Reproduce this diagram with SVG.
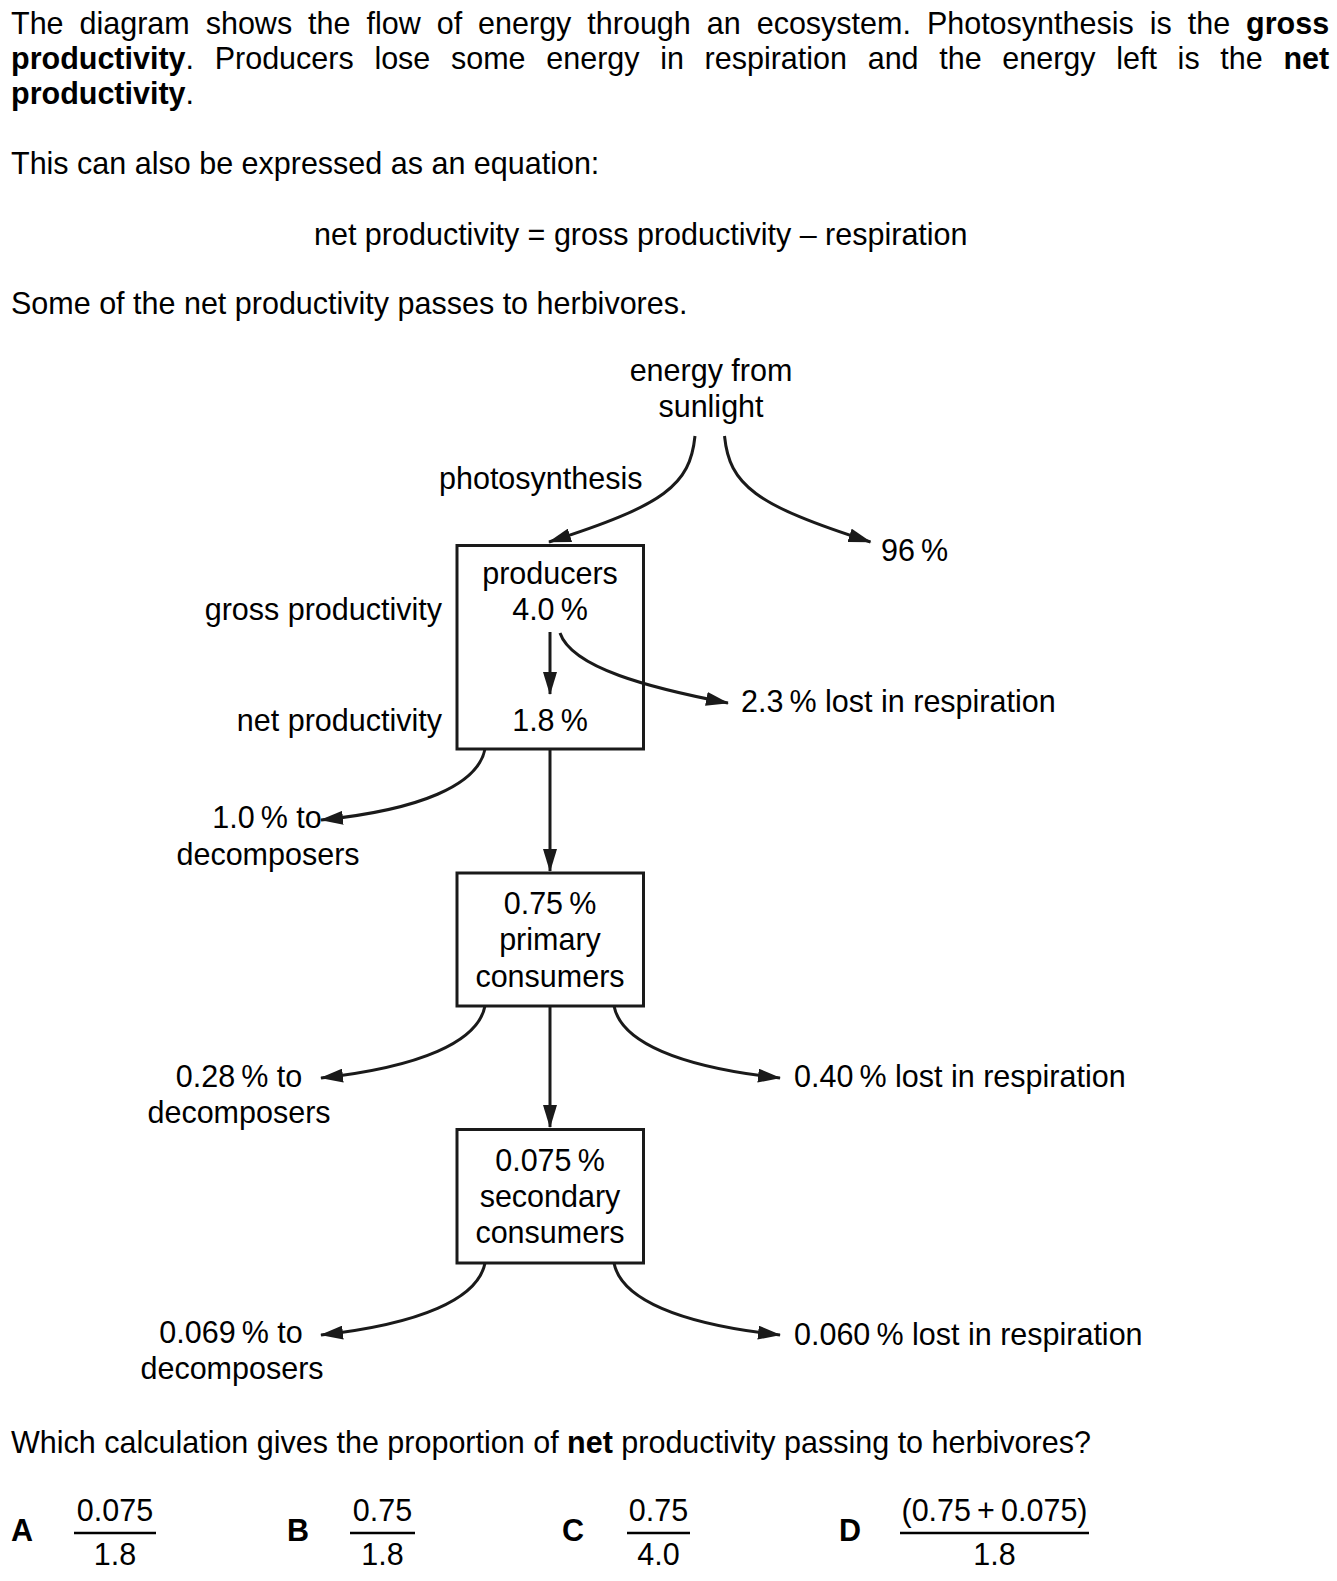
<svg xmlns="http://www.w3.org/2000/svg" width="1337" height="1581" viewBox="0 0 1337 1581">
<defs>
<style>
.t{font-family:"Liberation Sans",Arial,Helvetica,sans-serif;font-size:30.5px;fill:#000;}
.b{font-weight:bold;}
.c{text-anchor:middle;}
.e{text-anchor:end;}
.box{fill:none;stroke:#1a1a1a;stroke-width:3;}
.ln{fill:none;stroke:#1a1a1a;stroke-width:3;marker-end:url(#ah);}
.fr{stroke:#000;stroke-width:2.6;}
</style>
<marker id="ah" markerUnits="userSpaceOnUse" markerWidth="24" markerHeight="14" refX="22" refY="7" orient="auto" viewBox="0 0 24 14">
<path d="M0,0 L23,7 L0,14 z" fill="#1a1a1a"/>
</marker>
</defs>
<rect width="1337" height="1581" fill="#fff"/>

<g id="intro">
<text class="t" x="11" y="34" style="word-spacing:7.5px">The diagram shows the flow of energy through an ecosystem. Photosynthesis is the <tspan class="b">gross</tspan></text>
<text class="t" x="11" y="69" style="word-spacing:12.2px"><tspan class="b">productivity</tspan>. Producers lose some energy in respiration and the energy left is the <tspan class="b">net</tspan></text>
<text class="t" x="11" y="104"><tspan class="b">productivity</tspan>.</text>
<text class="t" x="11" y="174">This can also be expressed as an equation:</text>
<text class="t" x="314" y="245">net productivity = gross productivity – respiration</text>
<text class="t" x="11" y="314">Some of the net productivity passes to herbivores.</text>
</g>

<g id="sunlight">
<text class="t c" x="711" y="381">energy from</text>
<text class="t c" x="711" y="417">sunlight</text>
</g>
<g id="photosynthesis-label">
<text class="t" x="439" y="489">photosynthesis</text>
</g>
<g id="lost-96">
<text class="t" x="881" y="561">96&#8201;%</text>
</g>

<g id="producers">
<rect class="box" x="457" y="545.5" width="186.5" height="203.5"/>
<text class="t c" x="550" y="584">producers</text>
<text class="t c" x="550" y="620">4.0&#8201;%</text>
<text class="t c" x="550" y="731">1.8&#8201;%</text>
</g>
<g id="side-labels">
<text class="t e" x="442" y="620">gross productivity</text>
<text class="t e" x="442" y="731">net productivity</text>
</g>
<g id="resp-producers">
<text class="t" x="741" y="712">2.3&#8201;% lost in respiration</text>
</g>
<g id="decomp-producers">
<text class="t c" x="267" y="828">1.0&#8201;% to</text>
<text class="t c" x="268" y="865">decomposers</text>
</g>

<g id="primary">
<rect class="box" x="457" y="873" width="186.5" height="133"/>
<text class="t c" x="550" y="914">0.75&#8201;%</text>
<text class="t c" x="550" y="950">primary</text>
<text class="t c" x="550" y="987">consumers</text>
</g>
<g id="decomp-primary">
<text class="t c" x="239" y="1087">0.28&#8201;% to</text>
<text class="t c" x="239" y="1123">decomposers</text>
</g>
<g id="resp-primary">
<text class="t" x="794" y="1087">0.40&#8201;% lost in respiration</text>
</g>

<g id="secondary">
<rect class="box" x="457" y="1129.5" width="186.5" height="133.5"/>
<text class="t c" x="550" y="1171">0.075&#8201;%</text>
<text class="t c" x="550" y="1207">secondary</text>
<text class="t c" x="550" y="1243">consumers</text>
</g>
<g id="decomp-secondary">
<text class="t c" x="231" y="1343">0.069&#8201;% to</text>
<text class="t c" x="232" y="1379">decomposers</text>
</g>
<g id="resp-secondary">
<text class="t" x="794" y="1345">0.060&#8201;% lost in respiration</text>
</g>

<g id="connectors">
<path class="ln" d="M695,436 C690,485 665,505 549,542"/>
<path class="ln" d="M724.5,436 C729.5,485 754.5,505 870.5,542"/>
<path class="ln" d="M550,632 L550,694"/>
<path class="ln" d="M560,633 C572,668 650,688 728,703"/>
<path class="ln" d="M550,749 L550,871"/>
<path class="ln" d="M485,749 C478,785 420,810 321,820"/>
<path class="ln" d="M550,1006 L550,1127"/>
<path class="ln" d="M485,1006 C478,1042 420,1067 321,1078"/>
<path class="ln" d="M614,1006 C621,1042 679,1067 780,1078"/>
<path class="ln" d="M485,1263 C478,1299 420,1324 321,1335"/>
<path class="ln" d="M614,1263 C621,1299 679,1324 780,1335"/>
</g>

<g id="question">
<text class="t" x="11" y="1453">Which calculation gives the proportion of <tspan class="b">net</tspan> productivity passing to herbivores?</text>
</g>

<g id="option-A">
<text class="t b" x="11" y="1541">A</text>
<text class="t c" x="115" y="1521">0.075</text>
<line class="fr" x1="74" y1="1533" x2="156" y2="1533"/>
<text class="t c" x="115" y="1565">1.8</text>
</g>
<g id="option-B">
<text class="t b" x="287" y="1541">B</text>
<text class="t c" x="382.5" y="1521">0.75</text>
<line class="fr" x1="350" y1="1533" x2="415" y2="1533"/>
<text class="t c" x="382.5" y="1565">1.8</text>
</g>
<g id="option-C">
<text class="t b" x="562" y="1541">C</text>
<text class="t c" x="658.5" y="1521">0.75</text>
<line class="fr" x1="627" y1="1533" x2="690" y2="1533"/>
<text class="t c" x="658.5" y="1565">4.0</text>
</g>
<g id="option-D">
<text class="t b" x="839" y="1541">D</text>
<text class="t c" x="994.5" y="1521">(0.75&#8201;+&#8201;0.075)</text>
<line class="fr" x1="900" y1="1533" x2="1089" y2="1533"/>
<text class="t c" x="994.5" y="1565">1.8</text>
</g>
</svg>
